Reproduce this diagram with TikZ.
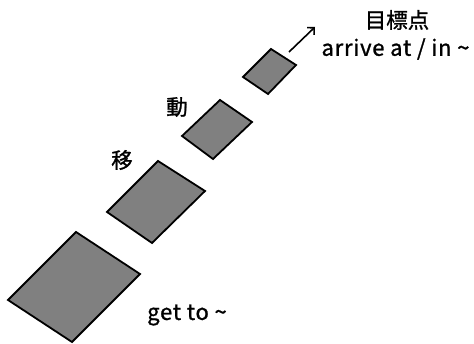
\documentclass[tikz,border=0pt]{standalone}
\usepackage{fontspec}
\usetikzlibrary{arrows.meta}
\setmainfont{Noto Sans CJK JP}[FakeBold=1.2]
\begin{document}
\begin{tikzpicture}[x=1pt,y=-1pt,
  tile/.style={draw=black,fill=black!50,line width=1.8pt,line join=miter},
  lbl/.style={font=\fontsize{21.5}{23}\selectfont,inner sep=0pt},
  wide/.style={font=\fontsize{22}{24}\selectfont\addfontfeatures{LetterSpace=3.5},inner sep=0pt}]
\useasboundingbox (0,0) rectangle (474,344);
\draw[tile] (76,232) -- (140,274) -- (72,342) -- (8,300) -- cycle;
\draw[tile] (158,161) -- (205,191) -- (152,243) -- (107,212) -- cycle;
\draw[tile] (220,100) -- (252,122) -- (213,159) -- (182,136) -- cycle;
\draw[tile] (271,49) -- (296,65) -- (268,94) -- (243,77) -- cycle;
\coordinate (a0) at (289,52);
\coordinate (a1) at (315,27);
\draw[-{Straight Barb[length=5pt,width=10pt,line width=1.6pt]},line width=1.6pt] (a0) -- (a1);
\node[lbl] (goal) at (397,20) {目標点};
\node[wide] (arr) at (395.5,49) {arrive at / in \textasciitilde};
\node[lbl] (i) at (122,160) {移};
\node[lbl] (d) at (177,107) {動};
\node[wide] (get) at (187,315) {get to \textasciitilde};
\end{tikzpicture}
\end{document}
